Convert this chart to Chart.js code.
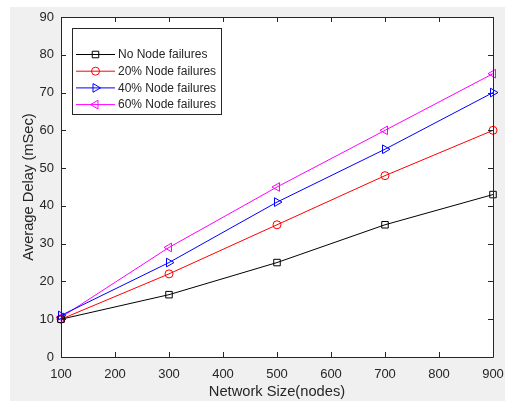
<!DOCTYPE html>
<html>
<head>
<meta charset="utf-8">
<script src="https://cdn.jsdelivr.net/npm/chart.js@4/dist/chart.umd.min.js"></script>
<style>
  body { margin: 0; background: #fff; }
  #wrap { width: 505px; height: 401px; }
</style>
</head>
<body>
<div id="wrap"><canvas id="myChart"></canvas></div>
<script>
const networkSize = [100, 300, 500, 700, 900];
const noFailures = [10, 16.5, 25, 35, 43];
const failures20 = [10, 22, 35, 48, 60];
const failures40 = [11, 25, 41, 55, 70];
const failures60 = [10.5, 29, 45, 60, 75];
const xTicks = [100, 200, 300, 400, 500, 600, 700, 800, 900];
const yTicks = [0, 10, 20, 30, 40, 50, 60, 70, 80, 90];

const axisColor = "#262626";
const font = "Liberation Sans, Arial, Helvetica, sans-serif";

function pts(ys) {
  return networkSize.map((x, i) => ({ x: x, y: ys[i] }));
}

// gray figure background, white axes, box, inward ticks and a matlab-like legend
const matlabLook = {
  id: "matlabLook",
  beforeDraw(chart) {
    const ctx = chart.ctx;
    const a = chart.chartArea;
    ctx.save();
    ctx.fillStyle = "#fff";
    ctx.fillRect(0, 0, chart.width, chart.height);
    ctx.fillStyle = "#f0f0f0";
    ctx.fillRect(10, 7, chart.width - 10, chart.height - 7);
    ctx.fillStyle = "#fff";
    ctx.fillRect(a.left, a.top, a.right - a.left, a.bottom - a.top);
    ctx.restore();
  },
  afterDraw(chart) {
    const ctx = chart.ctx;
    const a = chart.chartArea;
    const xs = chart.scales.x, ys = chart.scales.y;
    ctx.save();
    ctx.strokeStyle = axisColor;
    ctx.lineWidth = 1;
    ctx.beginPath();
    ctx.rect(Math.round(a.left) + 0.5, Math.round(a.top) + 0.5,
             Math.round(a.right - a.left), Math.round(a.bottom - a.top));
    xTicks.forEach(v => {
      const px = Math.round(xs.getPixelForValue(v)) + 0.5;
      ctx.moveTo(px, a.bottom); ctx.lineTo(px, a.bottom - 5);
      ctx.moveTo(px, a.top); ctx.lineTo(px, a.top + 5);
    });
    yTicks.forEach(v => {
      const py = Math.round(ys.getPixelForValue(v)) + 0.5;
      ctx.moveTo(a.left, py); ctx.lineTo(a.left + 5, py);
      ctx.moveTo(a.right, py); ctx.lineTo(a.right - 5, py);
    });
    ctx.stroke();

    // legend
    const lx = 72, ly = 28, lw = 149, lh = 86;
    ctx.fillStyle = "#fff";
    ctx.fillRect(lx, ly, lw, lh);
    ctx.strokeRect(lx + 0.5, ly + 0.5, lw, lh);
    ctx.font = "12px " + font;
    ctx.textBaseline = "middle";
    chart.data.datasets.forEach((ds, i) => {
      const y = 54.5 + i * 16.7;
      ctx.strokeStyle = ds.borderColor;
      ctx.beginPath();
      ctx.moveTo(76, y); ctx.lineTo(115, y);
      ctx.stroke();
      ctx.fillStyle = "rgba(0,0,0,0)";
      Chart.helpers.drawPoint(ctx, {
        pointStyle: ds.pointStyle,
        rotation: ds.pointRotation || 0,
        radius: ds.pointRadius,
        borderWidth: 1
      }, 95.5, y);
      ctx.fillStyle = axisColor;
      ctx.fillText(ds.label, 118, y + 0.5);
    });
    ctx.restore();
  }
};

new Chart("myChart", {
  type: "line",
  data: {
    datasets: [{
      label: "No Node failures",
      data: pts(noFailures),
      borderColor: "#000000",
      pointStyle: "rect",
      pointRadius: 4.6
    }, {
      label: "20% Node failures",
      data: pts(failures20),
      borderColor: "#ff0000",
      pointStyle: "circle",
      pointRadius: 4
    }, {
      label: "40% Node failures",
      data: pts(failures40),
      borderColor: "#0000ff",
      pointStyle: "triangle",
      pointRotation: 90,
      pointRadius: 5
    }, {
      label: "60% Node failures",
      data: pts(failures60),
      borderColor: "#ff00ff",
      pointStyle: "triangle",
      pointRotation: -90,
      pointRadius: 5
    }].map(d => Object.assign(d, {
      borderWidth: 1,
      pointBorderColor: d.borderColor,
      pointBackgroundColor: "rgba(0,0,0,0)",
      pointBorderWidth: 1,
      tension: 0,
      fill: false,
      clip: false
    }))
  },
  options: {
    responsive: true,
    maintainAspectRatio: false,
    animation: false,
    layout: { padding: { top: 17, right: 12, left: 0, bottom: 0 } },
    plugins: {
      legend: { display: false },
      tooltip: { enabled: false }
    },
    scales: {
      x: {
        type: "linear",
        min: 100,
        max: 900,
        afterFit(scale) {
          scale.height = 44;
          scale.paddingLeft = 0;
          scale.paddingRight = 0;
        },
        afterBuildTicks(scale) { scale.ticks = xTicks.map(v => ({ value: v })); },
        grid: { display: false, drawTicks: false },
        border: { display: false },
        ticks: {
          color: axisColor,
          padding: 10,
          maxRotation: 0,
          font: { family: font, size: 13 }
        },
        title: {
          display: true,
          text: "Network Size(nodes)",
          color: axisColor,
          padding: { top: 0, bottom: 0 },
          font: { family: font, size: 14.7 }
        }
      },
      y: {
        min: 0,
        max: 90,
        afterFit(scale) {
          scale.width = 61;
          scale.paddingTop = 0;
          scale.paddingBottom = 0;
        },
        afterBuildTicks(scale) { scale.ticks = yTicks.map(v => ({ value: v })); },
        grid: { display: false, drawTicks: false },
        border: { display: false },
        ticks: {
          color: axisColor,
          padding: 7,
          font: { family: font, size: 13 }
        },
        title: {
          display: true,
          text: "Average Delay (mSec)",
          color: axisColor,
          padding: { top: 20, bottom: 0 },
          font: { family: font, size: 14.7 }
        }
      }
    }
  },
  plugins: [matlabLook]
});
</script>
</body>
</html>
